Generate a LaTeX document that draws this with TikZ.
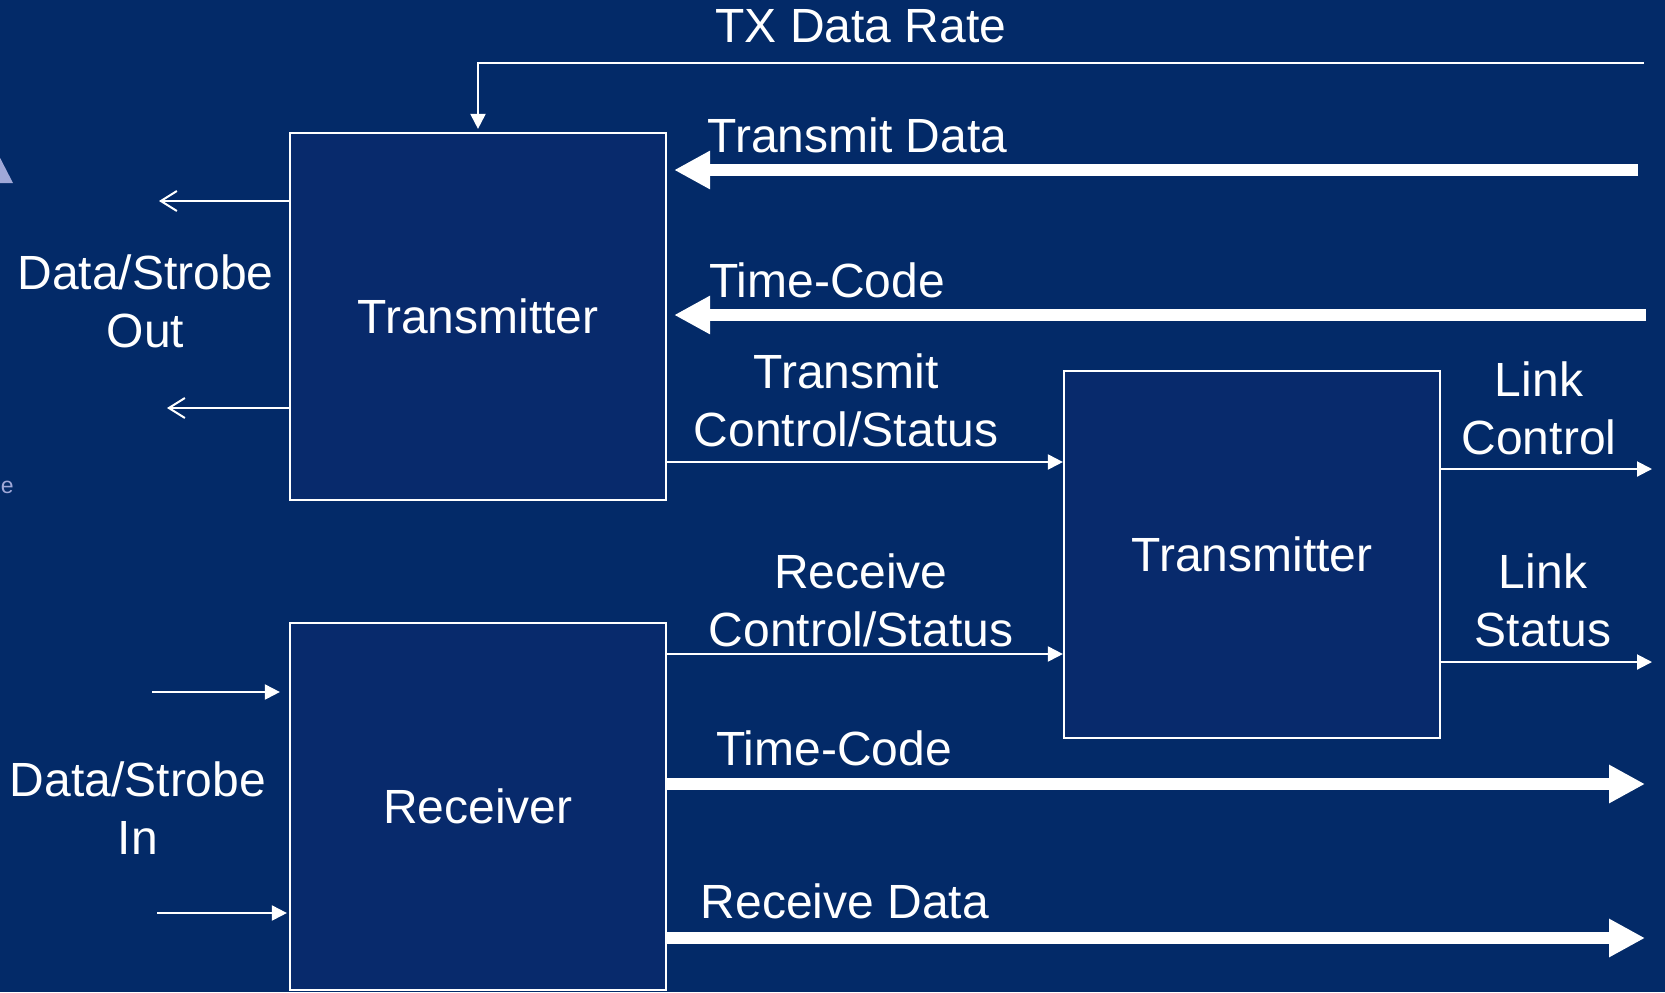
\documentclass[tikz,border=0pt]{standalone}
\usepackage{fontspec}
\setmainfont{Liberation Sans}
\usetikzlibrary{arrows.meta}
\usetikzlibrary{positioning}
\definecolor{slidebg}{RGB}{3,42,104}
\definecolor{blockfill}{RGB}{8,42,108}
\definecolor{ghost}{RGB}{160,168,216}
\tikzset{block/.style={rectangle,draw=white,line width=1.1pt,fill=blockfill,text=white,minimum width=188pt,minimum height=183.5pt,font=\fontsize{24}{29}\selectfont}}
\tikzset{lbl/.style={text=white,align=center,inner sep=0pt,font=\fontsize{24}{29}\selectfont}}
\tikzset{sig/.style={draw=white,line width=1pt,-{Triangle[length=7.5pt,width=7.5pt]}}}
\tikzset{wire/.style={draw=white,line width=1pt,-{Straight Barb[length=8pt,width=10pt]}}}
\tikzset{bus/.style={draw=white,line width=6pt,-{Triangle[length=18pt,width=18pt]}}}

\begin{document}
\begin{tikzpicture}[x=0.5pt,y=-0.5pt]
    \fill[slidebg] (0,0) rectangle (1665,992);
    \useasboundingbox (0,0) rectangle (1665,992);
    \clip (0,0) rectangle (1665,992);
    % bits of the slide behind, at the left edge
    \fill[ghost] (-4,150) -- (13,183) -- (-4,183) -- cycle;
    \node[anchor=base west, text=ghost, inner sep=0pt, font=\fontsize{11.5}{12}\selectfont] (cut) at (0.5,493) {e};

    \node[block] (tx) at (478,316.5) {Transmitter};
    \node[block] (rx) at (478,806.5) {Receiver};
    \node[block] (ctl) at (1252,554.5) {Transmitter};

    \coordinate (rateIn) at (1644,63);
    \coordinate (tdIn) at (1638,170);
    \coordinate (tcIn) at (1646,315);
    \coordinate (lcOut) at (1652,469);
    \coordinate (lsOut) at (1652,662);
    \coordinate (tcOut) at (1645,784);
    \coordinate (rdOut) at (1645,938);
    \coordinate (dsOut1) at (159,201);
    \coordinate (dsOut2) at (167,408);
    \coordinate (dsIn1) at (152,692);
    \coordinate (dsIn2) at (157,913);

    \draw[sig, shorten >=1.5pt] (rateIn) -| (tx.north);
    \draw[bus, shorten >=3.5pt] (tdIn) -- (tdIn -| tx.east);
    \draw[bus, shorten >=3.5pt] (tcIn) -- (tcIn -| tx.east);
    \draw[sig] (tx.east |- 0,462) -- (ctl.west |- 0,462);
    \draw[sig] (rx.east |- 0,654) -- (ctl.west |- 0,654);
    \draw[sig] (ctl.east |- lcOut) -- (lcOut);
    \draw[sig] (ctl.east |- lsOut) -- (lsOut);
    \draw[bus] (rx.east |- tcOut) -- (tcOut);
    \draw[bus] (rx.east |- rdOut) -- (rdOut);
    \draw[wire] (tx.west |- dsOut1) -- (dsOut1);
    \draw[wire] (tx.west |- dsOut2) -- (dsOut2);
    \draw[sig, shorten >=4.5pt] (dsIn1) -- (dsIn1 -| rx.west);
    \draw[sig, shorten >=1pt] (dsIn2) -- (dsIn2 -| rx.west);

    \node[lbl] (rateL) at (861,26.5) {TX Data Rate};
    \node[lbl] (tdL) at (857.5,135) {Transmit Data};
    \node[lbl] (tcInL) at (827,280) {Time-Code};
    \node[lbl] (tcsL) at (846,400) {Transmit\\Control/Status};
    \node[lbl] (rcsL) at (861,600.5) {Receive\\Control/Status};
    \node[lbl] (lcL) at (1539,408) {Link\\Control};
    \node[lbl] (lsL) at (1543,600.5) {Link\\Status};
    \node[lbl] (tcOutL) at (834,748.6) {Time-Code};
    \node[lbl] (rdL) at (845,901.5) {Receive Data};
    \node[lbl] (dsOutL) at (145.5,301.6) {Data/Strobe\\Out};
    \node[lbl] (dsInL) at (138,807.6) {Data/Strobe\\In};
\end{tikzpicture}
\end{document}
